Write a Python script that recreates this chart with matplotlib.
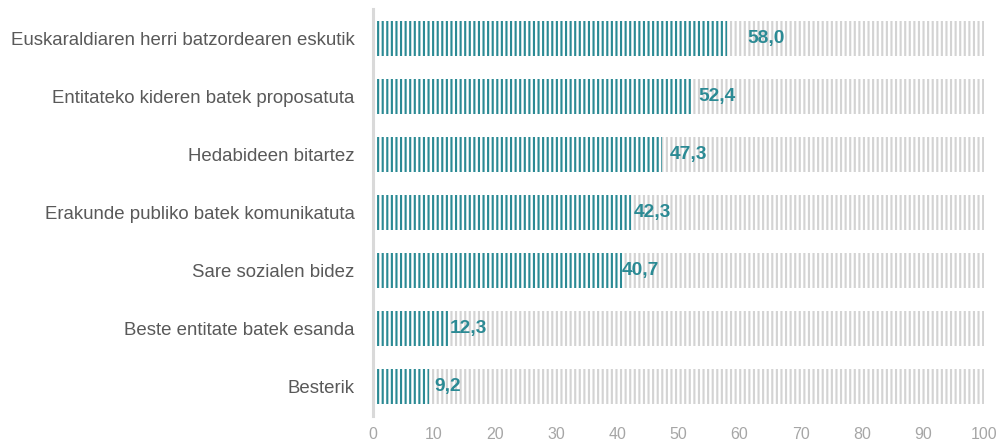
import matplotlib
matplotlib.use("Agg")
import matplotlib.pyplot as plt

categories = [
    "Euskaraldiaren herri batzordearen eskutik",
    "Entitateko kideren batek proposatuta",
    "Hedabideen bitartez",
    "Erakunde publiko batek komunikatuta",
    "Sare sozialen bidez",
    "Beste entitate batek esanda",
    "Besterik",
]
values = [58.0, 52.4, 47.3, 42.3, 40.7, 12.3, 9.2]
xticks = [0, 10, 20, 30, 40, 50, 60, 70, 80, 90, 100]
label_pad_px = [20, 5, 8, 2, 0, 2, 5]

TEAL = "#2b8a94"
GRAY = "#d3d3d3"
TEXT = "#595959"
TICK = "#a6a6a6"

DPI = 110
plt.rcParams["font.family"] = ["Liberation Sans", "DejaVu Sans"]
plt.rcParams["hatch.linewidth"] = 1.4

fig = plt.figure(figsize=(1008 / DPI, 445 / DPI), dpi=DPI)
ax = fig.add_axes([373 / 1008, 29 / 445, 611 / 1008, 407 / 445])

y = list(range(len(categories)))
ax.barh(y, [100] * len(y), height=0.6, left=0, color="white",
        edgecolor=GRAY, hatch="||||", linewidth=0)
ax.barh(y, values, height=0.6, left=0, color="white",
        edgecolor=TEAL, hatch="||||", linewidth=0)

for yi, v, pad in zip(y, values, label_pad_px):
    ax.annotate(f"{v:.1f}".replace(".", ","), xy=(v, yi), xytext=(pad * 72 / DPI, 0),
                textcoords="offset points", ha="left", va="center",
                fontsize=12.5, fontweight="bold", color=TEAL)

ax.set_xlim(0, 100)
ax.set_ylim(len(y) - 0.5, -0.5)
ax.set_yticks(y)
ax.set_yticklabels(categories, fontsize=12.2, color=TEXT)
ax.set_xticks(xticks)
ax.set_xticklabels([str(t) for t in xticks], fontsize=10.5, color=TICK)
ax.tick_params(axis="both", length=0)
ax.tick_params(axis="y", pad=12)
ax.tick_params(axis="x", pad=7)
for s in ["top", "right", "bottom"]:
    ax.spines[s].set_visible(False)
ax.spines["left"].set_color("#d9d9d9")
ax.spines["left"].set_linewidth(2)

fig.savefig("out.png", dpi=DPI, facecolor="white")
